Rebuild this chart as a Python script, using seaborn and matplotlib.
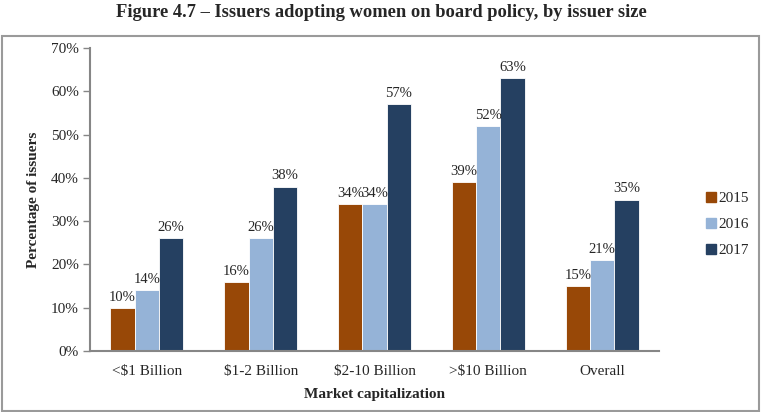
import matplotlib
matplotlib.use("Agg")
import matplotlib.pyplot as plt
import seaborn as sns
import pandas as pd
from matplotlib.patches import Rectangle
from matplotlib.lines import Line2D

categories = ["<$1 Billion", "$1-2 Billion", "$2-10 Billion", ">$10 Billion", "Overall"]
years = ["2015", "2016", "2017"]
values_2015 = [10, 16, 34, 39, 15]
values_2016 = [14, 26, 34, 52, 21]
values_2017 = [26, 38, 57, 63, 35]
colors = ["#984807", "#95B3D7", "#254061"]

rows = []
for yr, vals in zip(years, [values_2015, values_2016, values_2017]):
    for c, v in zip(categories, vals):
        rows.append({"cat": c, "year": yr, "val": v})
df = pd.DataFrame(rows)

sns.set_theme(style="white")
plt.rcParams["font.family"] = ["Liberation Serif", "DejaVu Serif"]

FS = 11
fig = plt.figure(figsize=(7.62, 4.12), dpi=100)
ax = fig.add_axes([90 / 762, 1 - 351 / 412, 569 / 762, 303 / 412])

sns.barplot(data=df, x="cat", y="val", hue="year", palette=colors, width=0.64,
            order=categories, hue_order=years, ax=ax, saturation=1, legend=False,
            edgecolor="white", linewidth=0.6)

for cont in ax.containers:
    ax.bar_label(cont, labels=[f"{int(round(b.get_height()))}%" for b in cont],
                 padding=3, fontsize=10.5)

ax.set_ylim(0, 70)
ax.set_xlim(-0.5, 4.5)
ax.set_yticks(range(0, 71, 10))
ax.set_yticklabels([f"{t}%" for t in range(0, 71, 10)], fontsize=FS)
ax.tick_params(axis="x", which="major", length=0, labelsize=FS, pad=10)
ax.set_xticks([i - 0.5 for i in range(6)], minor=True)
ax.tick_params(axis="x", which="minor", length=5, color="#868686", width=1, direction="out")
ax.tick_params(axis="y", length=5, color="#868686", width=1, direction="out", left=True, pad=3)
for s in ["top", "right"]:
    ax.spines[s].set_visible(False)
for s in ["left", "bottom"]:
    ax.spines[s].set_color("#868686")
    ax.spines[s].set_linewidth(1.5)

ax.set_xlabel("Market capitalization", fontsize=FS, fontweight="bold", labelpad=7)
ax.set_ylabel("Percentage of issuers", fontsize=FS, fontweight="bold", labelpad=8)

handles = [Line2D([0], [0], marker="s", linestyle="", markersize=7,
                  markerfacecolor=c, markeredgecolor=c) for c in colors]
fig.legend(handles, years, loc="center left", bbox_to_anchor=(0.905, 0.455),
           frameon=False, fontsize=FS, handletextpad=0.0, labelspacing=0.8,
           handlelength=1.0)

fig.text(0.5, 0.97, "Figure 4.7 \u2013 Issuers adopting women on board policy, by issuer size",
         ha="center", va="center", fontsize=13.3, fontweight="bold")

fig.patches.append(Rectangle((2 / 762, 1.5 / 412), 757 / 762, 1 - 37.5 / 412,
                             transform=fig.transFigure, fill=False,
                             edgecolor="#9a9a9a", linewidth=1.5))

fig.savefig("out.png", dpi=100)
